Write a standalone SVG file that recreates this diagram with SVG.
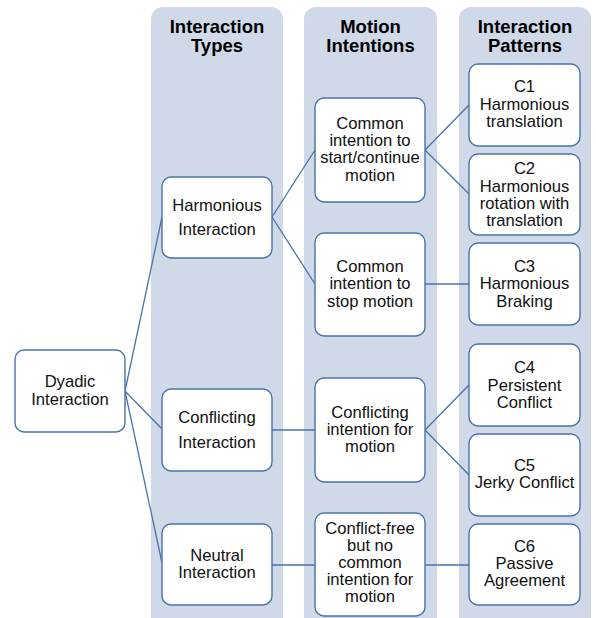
<svg xmlns="http://www.w3.org/2000/svg" width="596" height="618" viewBox="0 0 596 618">
<style>
.col{fill:#d0d9e7;}
.hdr{font-family:"Liberation Sans",Arial,sans-serif;font-size:18.5px;font-weight:bold;fill:#000;text-anchor:middle;}
.box{fill:#fff;stroke:#4a72aa;stroke-width:1.4;}
.t{font-family:"Liberation Sans",Arial,sans-serif;font-size:16.6px;fill:#111;text-anchor:middle;}
.c{fill:none;stroke:#4a72aa;stroke-width:1.3;}
</style>
<rect width="596" height="618" fill="#fff"/>
<g id="columns">
<path class="col" d="M151,618 V19 A12,12 0 0 1 163,7 H271 A12,12 0 0 1 283,19 V618 Z"/>
<path class="col" d="M304,618 V19 A12,12 0 0 1 316,7 H425 A12,12 0 0 1 437,19 V618 Z"/>
<path class="col" d="M459,618 V19 A12,12 0 0 1 471,7 H579 A12,12 0 0 1 591,19 V618 Z"/>
<text class="hdr" x="217" y="33">Interaction</text>
<text class="hdr" x="217" y="52">Types</text>
<text class="hdr" x="370.5" y="33">Motion</text>
<text class="hdr" x="370.5" y="52">Intentions</text>
<text class="hdr" x="525" y="33">Interaction</text>
<text class="hdr" x="525" y="52">Patterns</text>
</g>
<g id="connectors">
<path class="c" d="M125,391 L162,217 M125,391 L162,429 M125,391 L162,563"/>
<path class="c" d="M272,217 L315,150 M272,217 L315,284"/>
<path class="c" d="M272,430 H315 M272,565 H315"/>
<path class="c" d="M425,150 L469,105 M425,150 L469,194 M425,284 H469"/>
<path class="c" d="M425,430 L469,385 M425,430 L469,475 M425,565 H469"/>
</g>
<g id="dyadic">
<rect class="box" x="15" y="350" width="110" height="82" rx="9"/>
<text class="t" x="70" y="387">Dyadic</text>
<text class="t" x="70" y="405">Interaction</text>
</g>
<g id="harmonious">
<rect class="box" x="162" y="177" width="110" height="81" rx="9"/>
<text class="t" x="217" y="211">Harmonious</text>
<text class="t" x="217" y="235">Interaction</text>
</g>
<g id="conflicting">
<rect class="box" x="162" y="389" width="110" height="82" rx="9"/>
<text class="t" x="217" y="423">Conflicting</text>
<text class="t" x="217" y="448">Interaction</text>
</g>
<g id="neutral">
<rect class="box" x="162" y="524" width="110" height="81" rx="9"/>
<text class="t" x="217" y="561">Neutral</text>
<text class="t" x="217" y="578">Interaction</text>
</g>
<g id="start">
<rect class="box" x="315" y="98" width="110" height="104" rx="9"/>
<text class="t" x="370" y="129">Common</text>
<text class="t" x="370" y="146">intention to</text>
<text class="t" x="370" y="163">start/continue</text>
<text class="t" x="370" y="181">motion</text>
</g>
<g id="stop">
<rect class="box" x="315" y="233" width="110" height="103" rx="9"/>
<text class="t" x="370" y="272">Common</text>
<text class="t" x="370" y="289">intention to</text>
<text class="t" x="370" y="307">stop motion</text>
</g>
<g id="conflictintent">
<rect class="box" x="315" y="378" width="110" height="104" rx="9"/>
<text class="t" x="370" y="418">Conflicting</text>
<text class="t" x="370" y="435">intention for</text>
<text class="t" x="370" y="452">motion</text>
</g>
<g id="conflictfree">
<rect class="box" x="315" y="513" width="110" height="103" rx="9"/>
<text class="t" x="370" y="534">Conflict-free</text>
<text class="t" x="370" y="551">but no</text>
<text class="t" x="370" y="568">common</text>
<text class="t" x="370" y="585">intention for</text>
<text class="t" x="370" y="602">motion</text>
</g>
<g id="c1">
<rect class="box" x="469" y="64" width="111" height="82" rx="9"/>
<text class="t" x="524.5" y="92">C1</text>
<text class="t" x="524.5" y="110">Harmonious</text>
<text class="t" x="524.5" y="127">translation</text>
</g>
<g id="c2">
<rect class="box" x="469" y="154" width="111" height="81" rx="9"/>
<text class="t" x="524.5" y="174">C2</text>
<text class="t" x="524.5" y="192">Harmonious</text>
<text class="t" x="524.5" y="209">rotation with</text>
<text class="t" x="524.5" y="226">translation</text>
</g>
<g id="c3">
<rect class="box" x="469" y="243" width="111" height="82" rx="9"/>
<text class="t" x="524.5" y="272">C3</text>
<text class="t" x="524.5" y="289">Harmonious</text>
<text class="t" x="524.5" y="307">Braking</text>
</g>
<g id="c4">
<rect class="box" x="469" y="344" width="111" height="82" rx="9"/>
<text class="t" x="524.5" y="373">C4</text>
<text class="t" x="524.5" y="391">Persistent</text>
<text class="t" x="524.5" y="408">Conflict</text>
</g>
<g id="c5">
<rect class="box" x="469" y="434" width="111" height="82" rx="9"/>
<text class="t" x="524.5" y="471">C5</text>
<text class="t" x="524.5" y="488">Jerky Conflict</text>
</g>
<g id="c6">
<rect class="box" x="469" y="524" width="111" height="81" rx="9"/>
<text class="t" x="524.5" y="552">C6</text>
<text class="t" x="524.5" y="569">Passive</text>
<text class="t" x="524.5" y="586">Agreement</text>
</g>
</svg>
